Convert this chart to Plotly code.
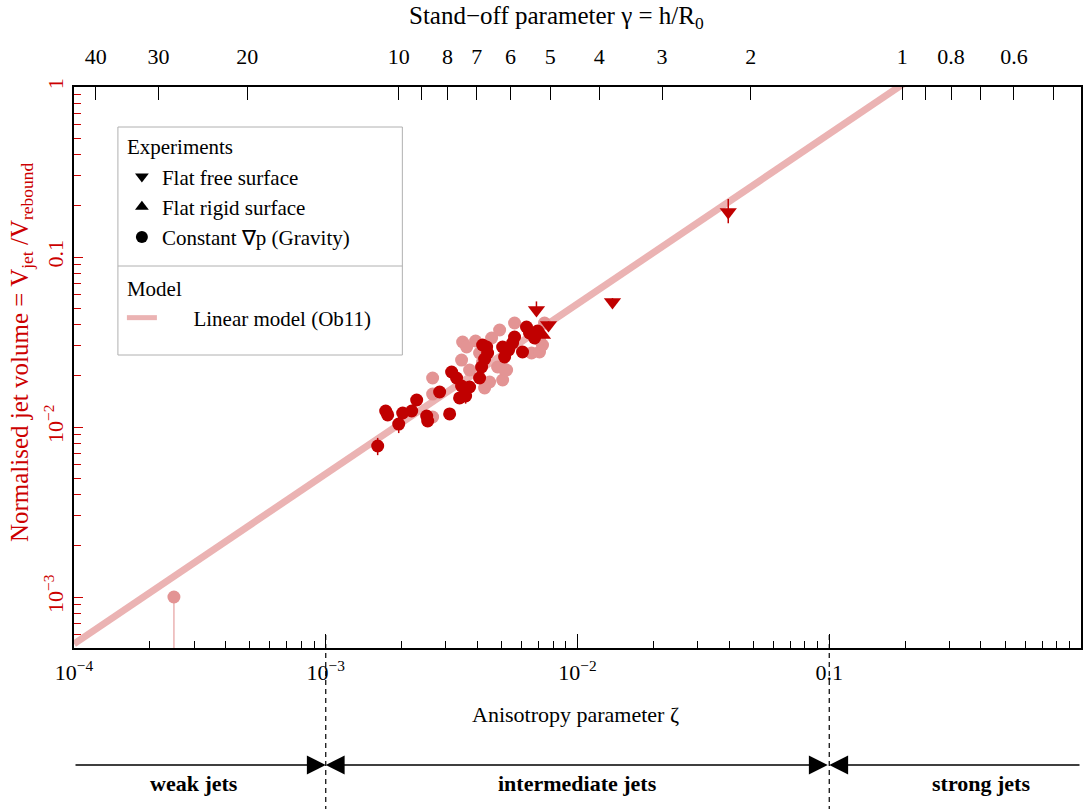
import plotly.graph_objects as go
import math

# ---------------- data ----------------
model_zeta = [1e-4, 1.0]
model_v = [5.3e-4, 5.3]

free_zeta = [6.87e-3, 7.67e-3, 1.377e-2, 3.97e-2]
free_v = [0.0488, 0.0398, 0.0543, 0.184]
free_err_plus = [0.006, 0.002, 0.003, 0.035]
free_err_minus = [0.003, 0.002, 0.002, 0.026]

rigid_zeta = [7.26e-3]
rigid_v = [0.0348]

dark_zeta = [1.608e-3, 1.730e-3, 1.762e-3, 1.949e-3, 2.021e-3, 2.195e-3, 2.297e-3,
             2.517e-3, 2.540e-3, 2.834e-3, 3.105e-3, 3.162e-3, 3.309e-3, 3.401e-3,
             3.594e-3, 3.464e-3, 3.727e-3, 4.084e-3, 4.159e-3, 4.276e-3, 4.355e-3,
             4.395e-3, 5.042e-3, 5.134e-3, 5.523e-3, 5.623e-3, 6.048e-3, 6.273e-3,
             6.448e-3, 6.751e-3, 6.939e-3, 4.198e-3, 5.325e-3]
dark_v = [7.73e-3, 1.242e-2, 1.177e-2, 1.041e-2, 1.209e-2, 1.242e-2, 1.442e-2,
          1.161e-2, 1.085e-2, 1.606e-2, 1.193e-2, 2.106e-2, 1.942e-2, 1.482e-2,
          1.522e-2, 1.743e-2, 1.719e-2, 1.942e-2, 2.254e-2, 2.512e-2, 2.955e-2,
          2.725e-2, 2.955e-2, 2.581e-2, 3.119e-2, 3.384e-2, 2.762e-2, 3.875e-2,
          3.572e-2, 3.338e-2, 3.670e-2, 3.037e-2, 2.837e-2]
dark_err = [0.0009, 0, 0, 0.0012, 0, 0, 0, 0, 0, 0, 0, 0, 0, 0,
            0.0015, 0, 0, 0, 0, 0, 0, 0, 0, 0, 0, 0, 0, 0, 0, 0, 0, 0, 0]

light_zeta = [2.494e-4, 2.658e-3, 2.658e-3, 2.658e-3, 3.497e-3, 3.936e-3, 4.558e-3,
              4.905e-3, 5.623e-3, 7.396e-3, 3.464e-3, 3.727e-3, 4.084e-3, 4.198e-3,
              4.276e-3, 4.475e-3, 5.042e-3, 5.042e-3, 4.815e-3, 6.568e-3, 7.066e-3,
              7.262e-3, 7.066e-3, 5.229e-3, 3.627e-3]
light_v = [1.0e-3, 1.942e-2, 1.563e-2, 1.145e-2, 3.162e-2, 3.205e-2, 3.338e-2,
           3.721e-2, 4.090e-2, 4.090e-2, 2.477e-2, 2.164e-2, 2.725e-2, 2.412e-2,
           1.696e-2, 1.839e-2, 1.890e-2, 2.223e-2, 2.254e-2, 2.725e-2, 2.762e-2,
           3.037e-2, 3.249e-2, 2.164e-2, 2.955e-2]
light_err_minus = [0.00095] + [0] * 24

# top axis: stand-off parameter gamma, zeta = 0.195 gamma^-2
gamma_labelled = [40, 30, 20, 10, 8, 7, 6, 5, 4, 3, 2, 1, 0.8, 0.6]
gamma_labels = ["40", "30", "20", "10", "8", "7", "6", "5", "4", "3", "2", "1", "0.8", "0.6"]
gamma_unlabelled = [9, 0.9, 0.7, 0.5]
zeta_of_gamma = 0.195

x_tickvals = [1e-4, 1e-3, 1e-2, 0.1, 1]
x_ticktext = ["10<sup>\u22124</sup>", "10<sup>\u22123</sup>", "10<sup>\u22122</sup>", "0.1", "1"]
y_tickvals = [1e-3, 1e-2, 0.1, 1]
y_ticktext = ["10<sup>\u22123</sup>", "10<sup>\u22122</sup>", "0.1", "1"]

regime_edges = [1e-4, 1e-3, 0.1, 1.0]
regime_names = ["weak jets", "intermediate jets", "strong jets"]
regime_label_x = [3e-4, 1e-2, 0.4]

# ---------------- style ----------------
FONT = "Liberation Serif"
DARK = "#C00000"
LIGHT = "#E39494"
LINE = "#EBB3B3"
RED_TXT = "#CC0000"
FS = 22
FS_TITLE = 25

W, H = 1086, 809
ML, MR, MT, MB = 74, 3, 87, 161
PH = H - MT - MB
PW = W - ML - MR

def py(pix):  # pixel y -> paper y
    return (H - MB - pix) / PH

def px(pix):
    return (pix - ML) / PW

fig = go.Figure()

fig.add_trace(go.Scatter(x=model_zeta, y=model_v, mode="lines",
                         line=dict(color=LINE, width=7), showlegend=False,
                         hoverinfo="skip"))

fig.add_trace(go.Scatter(x=light_zeta, y=light_v, mode="markers",
                         marker=dict(color=LIGHT, size=13, symbol="circle"),
                         error_y=dict(type="data", symmetric=False,
                                      array=[0] * len(light_v), arrayminus=light_err_minus,
                                      color=LINE, thickness=1.5, width=0),
                         showlegend=False))

fig.add_trace(go.Scatter(x=dark_zeta, y=dark_v, mode="markers",
                         marker=dict(color=DARK, size=13, symbol="circle"),
                         error_y=dict(type="data", array=dark_err, color=DARK,
                                      thickness=1.5, width=0),
                         showlegend=False))

fig.add_trace(go.Scatter(x=rigid_zeta, y=rigid_v, mode="markers",
                         marker=dict(color=DARK, size=15, symbol="triangle-up"),
                         showlegend=False))

fig.add_trace(go.Scatter(x=free_zeta, y=free_v, mode="markers",
                         marker=dict(color=DARK, size=15, symbol="triangle-down"),
                         error_y=dict(type="data", symmetric=False, array=free_err_plus,
                                      arrayminus=free_err_minus, color=DARK,
                                      thickness=1.5, width=0),
                         showlegend=False))

# legend entries (black symbols as in the reference key)
leg_font = dict(family=FONT, size=21, color="black")
fig.add_trace(go.Scatter(x=[None], y=[None], mode="markers", name="Flat free surface",
                         marker=dict(color="black", size=13, symbol="triangle-down"),
                         legendgroup="exp", legendgrouptitle=dict(text="Experiments", font=leg_font)))
fig.add_trace(go.Scatter(x=[None], y=[None], mode="markers", name="Flat rigid surface",
                         marker=dict(color="black", size=13, symbol="triangle-up"),
                         legendgroup="exp"))
fig.add_trace(go.Scatter(x=[None], y=[None], mode="markers", name="Constant \u2207p (Gravity)",
                         marker=dict(color="black", size=11, symbol="circle"),
                         legendgroup="exp"))
fig.add_trace(go.Scatter(x=[None], y=[None], mode="lines",
                         name="\u2003\u2002Linear model (Ob11)",
                         line=dict(color=LINE, width=7),
                         legendgroup="model", legendgrouptitle=dict(text="Model", font=leg_font)))

# invisible trace to bind the top axis
fig.add_trace(go.Scatter(x=[1e-4, 1], y=[None, None], xaxis="x2", mode="markers",
                         showlegend=False, hoverinfo="skip"))

minor_x = [m * 10 ** e for e in range(-4, 0) for m in range(2, 10)]
minor_y = [m * 10 ** e for e in range(-4, 0) for m in range(2, 10)]

fig.update_layout(
    width=W, height=H,
    margin=dict(l=ML, r=MR, t=MT, b=MB, pad=0),
    paper_bgcolor="white", plot_bgcolor="white",
    font=dict(family=FONT, size=FS, color="black"),
    xaxis=dict(type="log", range=[-4, 0], showgrid=False, zeroline=False,
               showline=True, linecolor="black", linewidth=1.5, mirror=False,
               ticks="inside", ticklen=14, tickwidth=1, tickcolor="black",
               tickvals=x_tickvals, ticktext=x_ticktext, ticklabelstandoff=4,
               tickfont=dict(family=FONT, size=FS),
               minor=dict(tickvals=minor_x, ticks="inside", ticklen=7, tickcolor="black")),
    xaxis2=dict(type="log", range=[-4, 0], overlaying="x", side="top",
                showgrid=False, zeroline=False, showline=True, linecolor="black",
                linewidth=1.5, ticks="inside", ticklen=13, tickcolor="black",
                tickvals=[zeta_of_gamma / g ** 2 for g in gamma_labelled],
                ticktext=gamma_labels, tickfont=dict(family=FONT, size=FS),
                ticklabelstandoff=12,
                minor=dict(tickvals=[zeta_of_gamma / g ** 2 for g in gamma_unlabelled],
                           ticks="inside", ticklen=13, tickcolor="black")),
    yaxis=dict(type="log", range=[-3.3, 0], showgrid=False, zeroline=False,
               showline=True, linecolor="black", linewidth=1.5, mirror=True,
               ticks="inside", ticklen=9, tickcolor=RED_TXT,
               tickvals=y_tickvals, ticktext=y_ticktext, tickangle=-90,
               tickfont=dict(family=FONT, size=FS, color=RED_TXT),
               minor=dict(tickvals=minor_y, ticks="inside", ticklen=7, tickcolor=RED_TXT)),
    legend=dict(x=px(122), y=py(126), xanchor="left", yanchor="top",
                bgcolor="rgba(0,0,0,0)", borderwidth=0, font=leg_font,
                traceorder="grouped", tracegroupgap=20, itemsizing="constant"),
    showlegend=True,
)

# axis titles
fig.add_annotation(x=px(557), y=py(17), xref="paper", yref="paper",
                   text="Stand\u2212off parameter \u03b3 = h/R<sub>0</sub>",
                   showarrow=False, xanchor="center", yanchor="middle",
                   font=dict(family=FONT, size=FS_TITLE, color="black"))
fig.add_annotation(x=px(576), y=py(714), xref="paper", yref="paper",
                   text="Anisotropy parameter \u03b6",
                   showarrow=False, xanchor="center", yanchor="middle",
                   font=dict(family=FONT, size=FS, color="black"))
fig.add_annotation(x=px(21), y=py(352), xref="paper", yref="paper",
                   text="Normalised jet volume = V<sub>jet</sub> /V<sub>rebound</sub>",
                   showarrow=False, xanchor="center", yanchor="middle", textangle=-90,
                   font=dict(family=FONT, size=FS_TITLE, color=RED_TXT))

# legend frame and divider
fig.add_shape(type="rect", xref="paper", yref="paper",
              x0=px(118), x1=px(403), y0=py(355), y1=py(127),
              line=dict(color="#B0B0B0", width=1), fillcolor="white", layer="below")
fig.add_shape(type="line", xref="paper", yref="paper",
              x0=px(118), x1=px(403), y0=py(266), y1=py(266),
              line=dict(color="#B0B0B0", width=1))

# regime boundaries (dashed lines)
for b in regime_edges[1:3]:
    fig.add_shape(type="line", xref="x", yref="paper", x0=b, x1=b,
                  y0=py(635), y1=py(809),
                  line=dict(color="black", width=1.2, dash="5px,4px"), layer="above")

# regime arrows
y_arrow = py(765)
AS = 2.7
for i in range(3):
    lo, hi = regime_edges[i], regime_edges[i + 1]
    if i == 0:
        fig.add_annotation(x=math.log10(hi), y=y_arrow, xref="x", yref="paper",
                           ax=math.log10(lo), ay=0, axref="x", ayref="pixel",
                           text="", showarrow=True, arrowhead=2, arrowsize=AS,
                           arrowwidth=1.4, arrowcolor="black", standoff=0)
    elif i == 1:
        fig.add_annotation(x=math.log10(lo), y=y_arrow, xref="x", yref="paper",
                           ax=math.log10(hi), ay=0, axref="x", ayref="pixel",
                           text="", showarrow=True, arrowhead=2, startarrowhead=2,
                           arrowside="end+start", arrowsize=AS, startarrowsize=AS,
                           arrowwidth=1.4, arrowcolor="black", standoff=0, startstandoff=0)
    else:
        fig.add_annotation(x=math.log10(lo), y=y_arrow, xref="x", yref="paper",
                           ax=math.log10(hi), ay=0, axref="x", ayref="pixel",
                           text="", showarrow=True, arrowhead=2, arrowsize=AS,
                           arrowwidth=1.4, arrowcolor="black", standoff=0)

for name, xl in zip(regime_names, regime_label_x):
    fig.add_annotation(x=math.log10(xl), y=py(783), xref="x", yref="paper",
                       text="<b>" + name + "</b>", showarrow=False,
                       xanchor="center", yanchor="middle",
                       font=dict(family=FONT, size=FS, color="black"))

fig.write_html("out.html")
